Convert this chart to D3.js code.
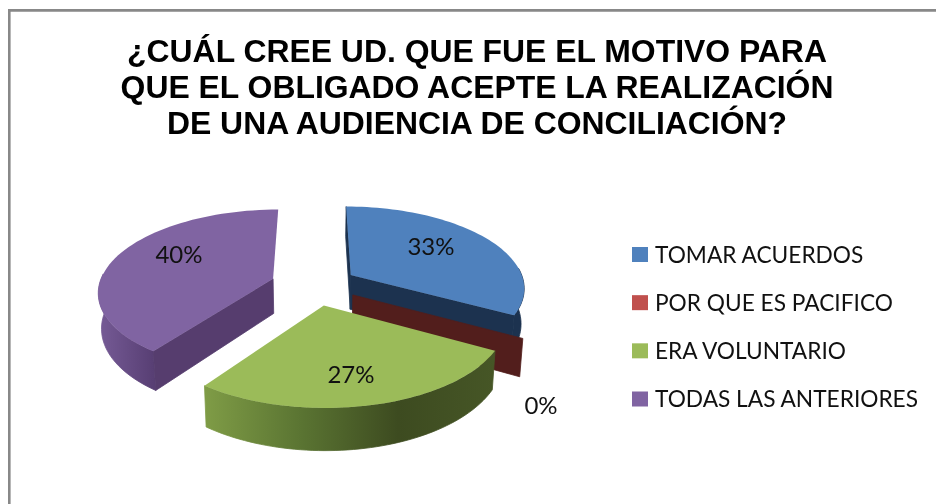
<!DOCTYPE html>
<html><head><meta charset="utf-8">
<script src="https://cdnjs.cloudflare.com/ajax/libs/d3/7.8.5/d3.min.js"></script>
<style>html,body{margin:0;padding:0;background:#fff}svg{display:block;filter:blur(0.4px)}</style>
</head><body><div id="c"></div>
<script>
const categories = ["TOMAR ACUERDOS","POR QUE ES PACIFICO","ERA VOLUNTARIO","TODAS LAS ANTERIORES"];
const values = [33,0,27,40];
const labels = ["33%","0%","27%","40%"];
const titleLines = ["¿CUÁL CREE UD. QUE FUE EL MOTIVO PARA","QUE EL OBLIGADO ACEPTE LA REALIZACIÓN","DE UNA AUDIENCIA DE CONCILIACIÓN?"];
const topColors = ["#4f81bd","#c0504d","#9bbb59","#8064a2"];
const faceColors = ["#1c324f","#521e1c","#4a5a28","#563d6e"];
const wallStops = [["#1c324f","#1c324f"],["#521e1c","#521e1c"],["#7f9c46","#5a7432","#3d4b20","#465626"],["#765b96","#583f74"]];
const labelPos = [[431,246],[541,405],[351,374],[179,254]];

const W=936,H=504;
const svg=d3.select("#c").append("svg").attr("width",W).attr("height",H);
const defs=svg.append("defs");
svg.append("rect").attr("width",W).attr("height",H).attr("fill","#fff");
svg.append("path").attr("d","M9.3,504V10.4H936").attr("fill","none").attr("stroke","#888").attr("stroke-width",2.6);

// title
const titleY=d3.scalePoint().domain(d3.range(titleLines.length)).range([62,134]);
svg.append("g").selectAll("text").data(titleLines).join("text")
 .attr("x",477).attr("y",(d,i)=>titleY(i)).attr("text-anchor","middle")
 .attr("font-family","'Liberation Sans',Arial,sans-serif").attr("font-weight","bold")
 .attr("font-size",31.9).attr("fill","#000").text(d=>d);

// perspective projection of the pie plane
const cx=314,cy=285,Sx=174,Sy=81,k=0.145,explode=0.25,depth=35,shrink=0.985;
function project(X,Z,bottom){
  const w=1+k*Z;
  let x=cx+Sx*X/w, y=cy-Sy*Z/w;
  if(bottom){x=cx+(x-cx)*shrink; y+=depth/w;}
  return [x,y];
}
const pie=d3.pie().sort(null)(values);
const line=d3.line();
pie.forEach((p,i)=>{
  const mid=(p.startAngle+p.endAngle)/2;
  p.ox=explode*Math.sin(mid); p.oz=explode*Math.cos(mid);
  p.pt=(a,r,b)=>project(p.ox+r*Math.sin(a),p.oz+r*Math.cos(a),b);
  p.arcAngles=d3.range(0,61).map(t=>p.startAngle+(p.endAngle-p.startAngle)*t/60);
});
const g=svg.append("g");
[0,3,1,2].forEach(i=>{
  const p=pie[i];
  const sl=g.append("g");
  const hasArea=p.endAngle>p.startAngle;
  if(hasArea){
    // the outer wall only shows on the near part of the rim
    const near=p.arcAngles.filter(a=>Math.cos(a)<0.1);
    const topArc=near.map(a=>p.pt(a,1,false));
    const botArc=near.map(a=>p.pt(a,1,true));
    const xs=topArc.map(d=>d[0]);
    const stops=wallStops[i];
    const gr=defs.append("linearGradient").attr("id","wall"+i).attr("gradientUnits","userSpaceOnUse")
      .attr("x1",d3.min(xs)).attr("x2",d3.max(xs)).attr("y1",0).attr("y2",0);
    stops.forEach((c,j)=>gr.append("stop").attr("offset",j/(stops.length-1)).attr("stop-color",c));
    sl.append("path").attr("d",line(topArc.concat(botArc.slice().reverse()))+"Z")
      .attr("fill","url(#wall"+i+")").attr("stroke","url(#wall"+i+")").attr("stroke-width",0.8);
  }
  const radial=a=>[p.pt(a,0,false),p.pt(a,1,false),p.pt(a,1,true),p.pt(a,0,true)];
  if(i===0||i===3) sl.append("path").attr("d",line(radial(p.startAngle))+"Z").attr("fill",faceColors[i]).attr("stroke",faceColors[i]).attr("stroke-width",0.8);
  if(i===0||i===1) sl.append("path").attr("d",line(radial(p.endAngle))+"Z").attr("fill",faceColors[i]).attr("stroke",faceColors[i]).attr("stroke-width",0.8);
  if(hasArea){
    const poly=[p.pt(0,0,false)].concat(p.arcAngles.map(a=>p.pt(a,1,false)));
    sl.append("path").attr("d",line(poly)+"Z").attr("fill",topColors[i]);
  }
});

// data labels
const font="Lato,'Open Sans',sans-serif";
svg.append("g").selectAll("text").data(labels).join("text")
 .attr("x",(d,i)=>labelPos[i][0]).attr("y",(d,i)=>labelPos[i][1]+8.5)
 .attr("text-anchor","middle").attr("font-family",font).attr("font-size",24).attr("fill","#111").text(d=>d);

// legend
const legendY=d3.scalePoint().domain(categories).range([254.5,399]);
const leg=svg.append("g").selectAll("g").data(categories).join("g")
 .attr("transform",d=>`translate(632,${legendY(d)})`);
leg.append("rect").attr("x",0).attr("y",-7.5).attr("width",16).attr("height",15).attr("fill",(d,i)=>topColors[i]);
leg.append("text").attr("x",23).attr("y",8).attr("font-family",font).attr("font-size",22.7).attr("fill","#111").text(d=>d);
</script></body></html>
